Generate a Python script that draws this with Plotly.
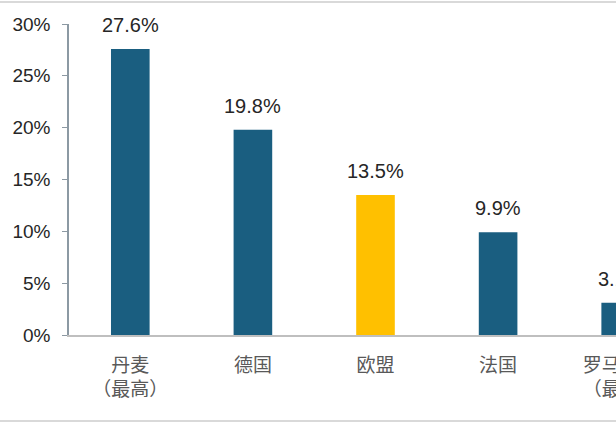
import plotly.graph_objects as go

categories = ["丹麦<br>（最高）", "德国", "欧盟", "法国", "罗马尼亚<br>（最低）"]
values = [27.6, 19.8, 13.5, 9.9, 3.1]
bar_colors = ["#1A5E80", "#1A5E80", "#FFC000", "#1A5E80", "#1A5E80"]
y_ticks = [0, 5, 10, 15, 20, 25, 30]
y_tick_labels = ["0%", "5%", "10%", "15%", "20%", "25%", "30%"]

fig = go.Figure()
fig.add_trace(go.Bar(
    x=categories, y=values, marker=dict(color=bar_colors, line=dict(width=0)),
    width=0.315, hoverinfo="skip",
))

for c, v in zip(categories, values):
    fig.add_annotation(
        x=c, y=v, xref="x", yref="y", text=f"{v:.1f}%", showarrow=False,
        yanchor="bottom", yshift=11,
        font=dict(family="Liberation Sans, Arial", size=20, color="#262626"),
    )

# light frame lines at top and bottom of the picture
fig.add_shape(type="line", xref="paper", yref="paper", x0=-0.2, x1=1.2,
              y0=1.0707, y1=1.0707, line=dict(color="#D9D9D9", width=2))
fig.add_shape(type="line", xref="paper", yref="paper", x0=-0.2, x1=1.2,
              y0=-0.2765, y1=-0.2765, line=dict(color="#D9D9D9", width=2))

fig.update_layout(
    width=702, height=424,
    margin=dict(l=62, r=20, t=24, b=89),
    paper_bgcolor="white", plot_bgcolor="white",
    showlegend=False,
    xaxis=dict(
        range=[-0.5, 4.5], showgrid=False, zeroline=False,
        showline=True, linecolor="#BFBFBF", linewidth=1.5,
        ticks="", ticklabelstandoff=12,
        tickfont=dict(family="Noto Sans CJK SC", size=19, color="#595959"),
    ),
    yaxis=dict(
        range=[0, 30], tickvals=y_ticks, ticktext=y_tick_labels,
        showgrid=False, zeroline=False,
        showline=True, linecolor="#8C99A3", linewidth=1.5,
        ticks="outside", ticklen=5, tickcolor="#8C99A3", tickwidth=1.2,
        ticklabelstandoff=8,
        tickfont=dict(family="Liberation Sans, Arial", size=19, color="#262626"),
    ),
)

fig.write_html(
    "out.html",
    config={"displayModeBar": False},
    post_script="document.body.style.margin='0';document.body.style.overflow='hidden';",
)
